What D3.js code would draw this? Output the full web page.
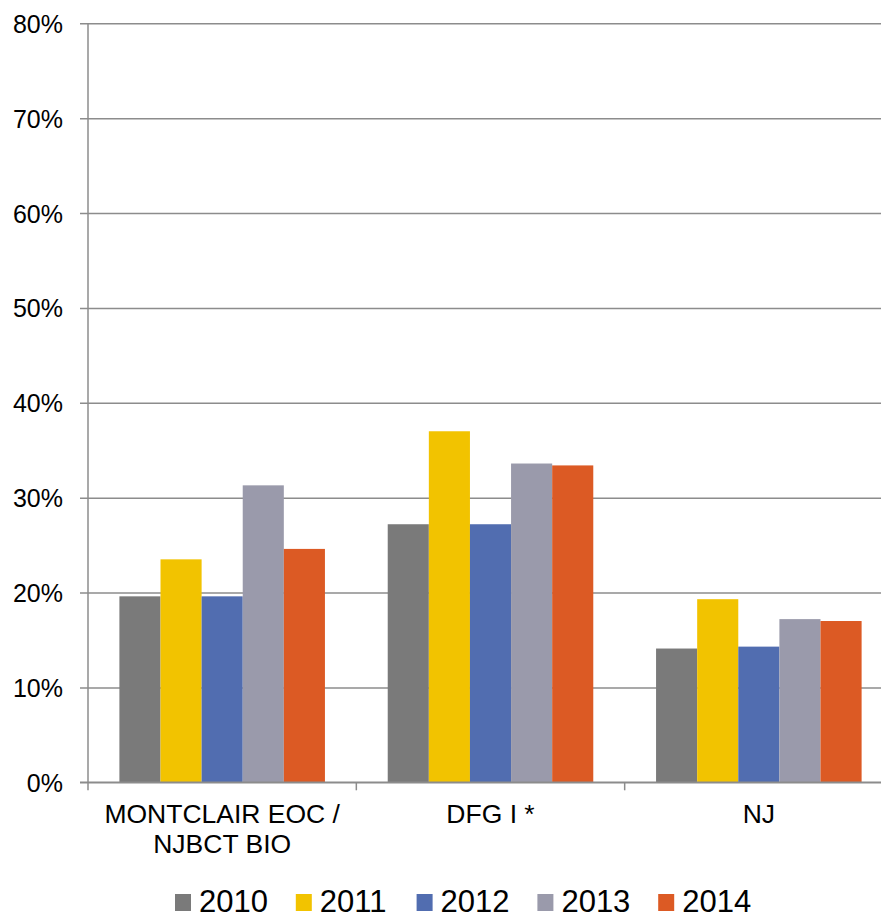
<!DOCTYPE html>
<html>
<head>
<meta charset="utf-8">
<script src="https://cdn.jsdelivr.net/npm/d3@7"></script>
<style>
  body { margin: 0; background: #fff; }
  text { font-family: "Liberation Sans", Arial, sans-serif; fill: #000; }
</style>
</head>
<body>
<div id="main_output"></div>
<script>
// chart data
var categories = ["MONTCLAIR EOC / NJBCT BIO", "DFG I *", "NJ"];
var categoryLines = [["MONTCLAIR EOC /", "NJBCT BIO"], ["DFG I *"], ["NJ"]];
var years = ["2010", "2011", "2012", "2013", "2014"];
var values2010 = [0.196, 0.272, 0.141];
var values2011 = [0.235, 0.370, 0.193];
var values2012 = [0.196, 0.272, 0.143];
var values2013 = [0.313, 0.336, 0.172];
var values2014 = [0.246, 0.334, 0.170];
var yTicks = [0, 0.1, 0.2, 0.3, 0.4, 0.5, 0.6, 0.7, 0.8];
var colors = ["#7a7a7a", "#f2c300", "#516db0", "#9a9aab", "#dc5a24"];

var series = [values2010, values2011, values2012, values2013, values2014];

var width = 881, height = 914;
var plotLeft = 88, plotRight = 893, plotTop = 23.3, plotBottom = 782.3;

var svg = d3.select("#main_output")
  .append("svg")
  .attr("width", width)
  .attr("height", height);

var x = d3.scaleBand()
  .domain(categories)
  .range([plotLeft, plotRight]);

var gap = x.bandwidth() * 0.117;
var xInner = d3.scaleBand()
  .domain(years)
  .range([gap, x.bandwidth() - gap]);

var y = d3.scaleLinear()
  .domain([0, 0.8])
  .range([plotBottom, plotTop]);

// gridlines + y labels
var yAxis = d3.axisLeft(y)
  .tickValues(yTicks)
  .tickFormat(d3.format(".0%"))
  .tickSize(-(width - plotLeft + 8))
  .tickPadding(17);

var gy = svg.append("g")
  .attr("transform", "translate(" + (plotLeft - 8) + ",0)")
  .call(yAxis);
gy.select(".domain").remove();
gy.selectAll(".tick line")
  .attr("stroke", "#8c8c8c")
  .attr("stroke-width", 1.5);
gy.selectAll(".tick text")
  .attr("x", -17)
  .attr("dy", "0.36em")
  .style("font-size", "25px")
  .style("font-family", "Liberation Sans, Arial, sans-serif")
  .attr("fill", "#000");

// bars
var groups = svg.selectAll(".grp")
  .data(categories)
  .enter().append("g")
  .attr("class", "grp")
  .attr("transform", function(d) { return "translate(" + x(d) + ",0)"; });

groups.selectAll("rect")
  .data(function(d, i) {
    return years.map(function(yr, j) { return {year: yr, v: series[j][i], c: colors[j]}; });
  })
  .enter().append("rect")
  .attr("x", function(d) { return xInner(d.year); })
  .attr("width", xInner.bandwidth())
  .attr("y", function(d) { return y(d.v); })
  .attr("height", function(d) { return plotBottom - y(d.v); })
  .attr("fill", function(d) { return d.c; });

// y axis line
svg.append("line")
  .attr("x1", plotLeft).attr("x2", plotLeft)
  .attr("y1", plotTop).attr("y2", plotBottom)
  .attr("stroke", "#8c8c8c")
  .attr("stroke-width", 1.5);

// x axis line and ticks
svg.append("line")
  .attr("x1", plotLeft - 8).attr("x2", width)
  .attr("y1", plotBottom).attr("y2", plotBottom)
  .attr("stroke", "#8c8c8c")
  .attr("stroke-width", 1.5);

var bounds = categories.map(function(d) { return x(d); }).concat([plotRight]);
svg.selectAll(".xtick")
  .data(bounds)
  .enter().append("line")
  .attr("class", "xtick")
  .attr("x1", function(d) { return d; })
  .attr("x2", function(d) { return d; })
  .attr("y1", plotBottom)
  .attr("y2", plotBottom + 8)
  .attr("stroke", "#8c8c8c")
  .attr("stroke-width", 1.5);

// category labels
svg.selectAll(".catlabel")
  .data(categories)
  .enter().append("text")
  .attr("class", "catlabel")
  .attr("text-anchor", "middle")
  .style("font-size", "26.5px")
  .each(function(d, i) {
    var t = d3.select(this);
    categoryLines[i].forEach(function(line, k) {
      t.append("tspan")
        .attr("x", x(d) + x.bandwidth() / 2)
        .attr("y", 823 + k * 30)
        .text(line);
    });
  });

// legend
var legend = svg.selectAll(".legend")
  .data(years)
  .enter().append("g")
  .attr("class", "legend")
  .attr("transform", function(d, i) { return "translate(" + (175 + i * 120.8) + ",0)"; });

legend.append("rect")
  .attr("x", 0)
  .attr("y", 894)
  .attr("width", 16)
  .attr("height", 17)
  .attr("fill", function(d, i) { return colors[i]; });

legend.append("text")
  .attr("x", 24)
  .attr("y", 912)
  .style("font-size", "31px")
  .text(function(d) { return d; });
</script>
</body>
</html>
